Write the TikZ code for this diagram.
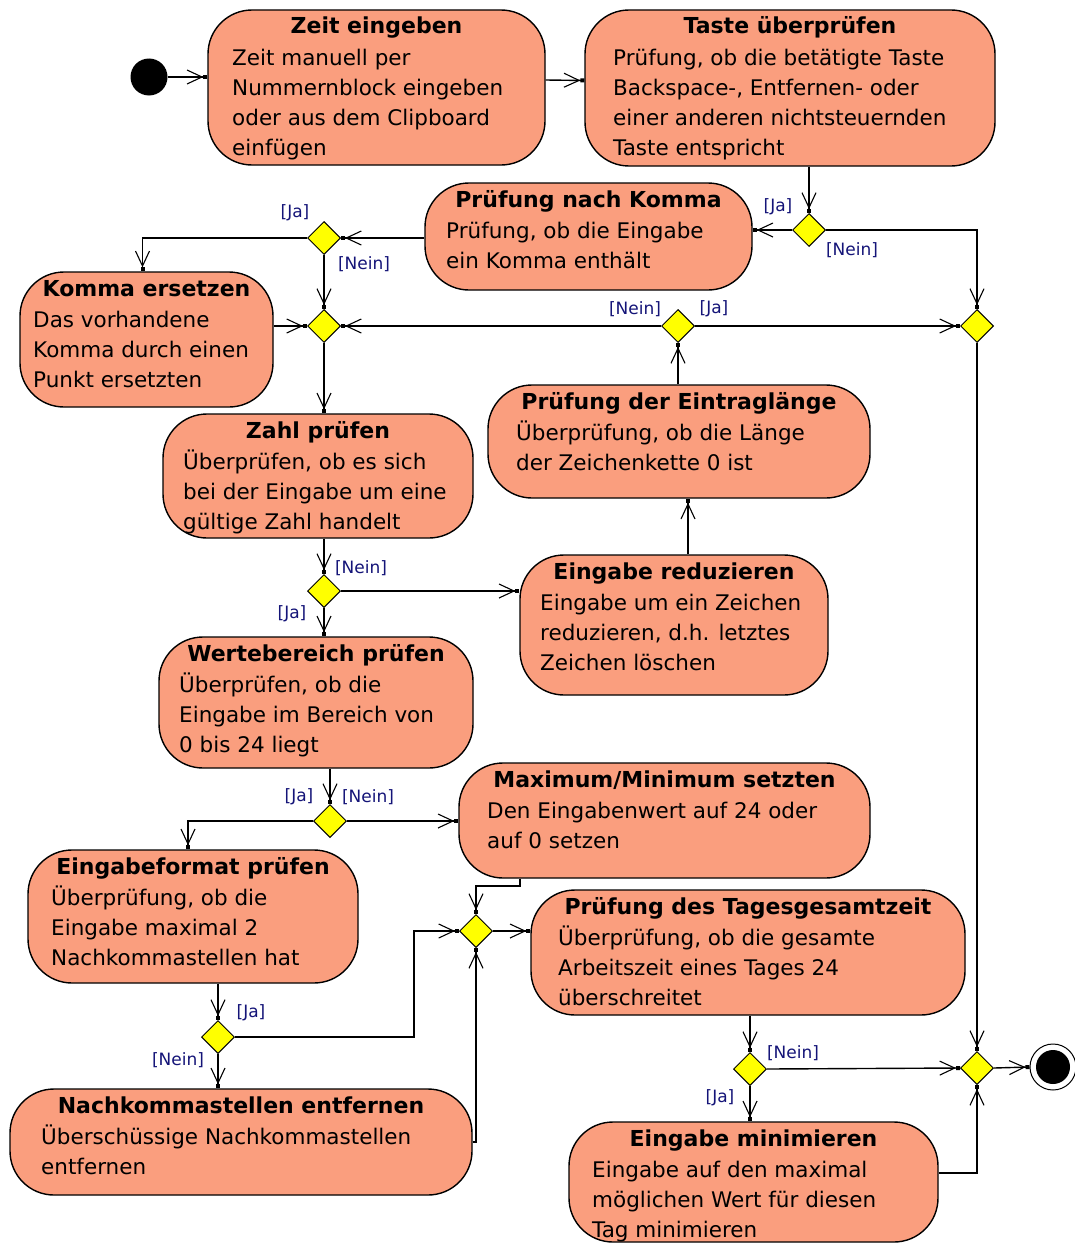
\documentclass[tikz,border=0pt]{standalone}
\usepackage{fontspec}
\setmainfont{DejaVu Sans}
\usetikzlibrary{arrows.meta,shapes.geometric,calc}

\definecolor{actfill}{RGB}{250,158,126}
\definecolor{guardblue}{RGB}{20,20,120}
\definecolor{forkyellow}{RGB}{255,255,0}

\tikzset{
  act/.style={draw=black, line width=1.4pt, fill=actfill, rounded corners=44pt, inner sep=0pt},
  acttitle/.style={font=\fontsize{22}{26}\selectfont\bfseries, anchor=base, inner sep=0pt},
  acttext/.style={font=\fontsize{21.5}{30}\selectfont, align=left, anchor=north west, inner sep=0pt},
  decision/.style={diamond, draw=black, line width=1pt, fill=forkyellow,
    minimum width=33pt, minimum height=33pt, inner sep=0pt},
  guard/.style={font=\fontsize{17}{20}\selectfont, text=guardblue, inner sep=0pt},
  flow/.style={line width=1.4pt,
    -{Straight Barb[length=15pt,width=14pt,line width=1.1pt] Square[length=4pt,width=4pt]}},
}

% activity box: name, left, top, right, bottom, text x, title, body
\newcommand\actbox[8]{%
  \node[act, minimum width={#4-#2}, minimum height={#5-#3}] (#1) at ({(#2+#4)/2},{(#3+#5)/2}) {};
  \node[acttitle] (#1-title) at ({(#2+#4)/2},#3+24) {#7};
  \node[acttext] (#1-body) at (#6,#3+34) {\rule{0pt}{21pt}#8};
}

\begin{document}
\begin{tikzpicture}[x=1pt,y=-1pt]
  \fill[white] (0,0) rectangle (1075,1247);
  \useasboundingbox (0,0) rectangle (1075,1247);

  % activities
  \actbox{zeit}{208}{10}{545}{165}{232}{Zeit eingeben}
    {Zeit manuell per\\Nummernblock eingeben\\oder aus dem Clipboard\\einfügen}
  \actbox{taste}{585}{10}{995}{166}{613}{Taste überprüfen}
    {Prüfung, ob die betätigte Taste\\Backspace-, Entfernen- oder\\einer anderen nichtsteuernden\\Taste entspricht}
  \actbox{kc}{425}{183}{752}{290}{446}{Prüfung nach Komma}
    {Prüfung, ob die Eingabe\\ein Komma enthält}
  \actbox{ke}{20}{272}{273}{407}{33}{Komma ersetzen}
    {Das vorhandene\\Komma durch einen\\Punkt ersetzten}
  \actbox{zahl}{163}{414}{473}{538}{183}{Zahl prüfen}
    {Überprüfen, ob es sich\\bei der Eingabe um eine\\gültige Zahl handelt}
  \actbox{eintr}{488}{385}{870}{498}{516}{Prüfung der Eintraglänge}
    {Überprüfung, ob die Länge\\der Zeichenkette 0 ist}
  \actbox{red}{520}{555}{828}{695}{540}{Eingabe reduzieren}
    {Eingabe um ein Zeichen\\reduzieren, d.h. letztes\\Zeichen löschen}
  \actbox{wert}{159}{637}{473}{768}{179}{Wertebereich prüfen}
    {Überprüfen, ob die\\Eingabe im Bereich von\\0 bis 24 liegt}
  \actbox{maxmin}{459}{763}{870}{878}{487}{Maximum/Minimum setzten}
    {Den Eingabenwert auf 24 oder\\auf 0 setzen}
  \actbox{eformat}{28}{850}{358}{983}{51}{Eingabeformat prüfen}
    {Überprüfung, ob die\\Eingabe maximal 2\\Nachkommastellen hat}
  \actbox{tages}{531}{890}{965}{1015}{558}{Prüfung des Tagesgesamtzeit}
    {Überprüfung, ob die gesamte\\Arbeitszeit eines Tages 24\\überschreitet}
  \actbox{nach}{10}{1089}{472}{1195}{41}{Nachkommastellen entfernen}
    {Überschüssige Nachkommastellen\\entfernen}
  \actbox{minim}{569}{1122}{938}{1242}{592}{Eingabe minimieren}
    {Eingabe auf den maximal\\möglichen Wert für diesen\\Tag minimieren}

  % initial and final states
  \node[circle, fill=black, minimum size=37pt, inner sep=0pt] (start) at (149,77) {};
  \node[circle, draw=black, line width=1pt, fill=white, minimum size=46pt, inner sep=0pt] (final) at (1053,1067) {};
  \node[circle, fill=black, minimum size=34pt, inner sep=0pt] (finaldot) at (final) {};

  % decisions and merges
  \node[decision] (dTaste) at (809,230) {};
  \node[decision] (dKomma) at (324,238) {};
  \node[decision] (mLeft) at (324,326) {};
  \node[decision] (dLen) at (678,326) {};
  \node[decision] (mRight) at (977,326) {};
  \node[decision] (dZahl) at (324,591) {};
  \node[decision] (dWert) at (330,821) {};
  \node[decision] (dFormat) at (218,1037) {};
  \node[decision] (mMid) at (476,931) {};
  \node[decision] (dTag) at (750,1069) {};
  \node[decision] (mEnd) at (977,1068) {};

  % bend points
  \coordinate (jogA) at (414,931);
  \coordinate (jogB) at (520,886);

  % control flow
  \draw[flow] (start.east) -- (start -| zeit.west);
  \draw[flow] ([yshift=7.5pt]zeit.east) -- ([yshift=7.5pt]taste.west);
  \draw[flow] (taste.south -| dTaste) -- (dTaste.north);
  \draw[flow] (dTaste.west) -- (dTaste.west -| kc.east);
  \draw[flow] (dTaste.east) -| (mRight.north);
  \draw[flow] (kc.west |- dKomma) -- (dKomma.east);
  \draw[flow] (dKomma.west) -| ([xshift=-4pt]ke.north);
  \draw[flow] (dKomma.south) -- (mLeft.north);
  \draw[flow] (ke.east |- mLeft) -- (mLeft.west);
  \draw[flow] (dLen.west) -- (mLeft.east);
  \draw[flow] (dLen.east) -- (mRight.west);
  \draw[flow] (mLeft.south) -- (mLeft |- zahl.north);
  \draw[flow] (zahl.south -| dZahl) -- (dZahl.north);
  \draw[flow] (dZahl.east) -- (dZahl -| red.west);
  \draw[flow] ([xshift=14pt]red.north) -- ([xshift=14pt]red.north |- eintr.south);
  \draw[flow] (dLen |- eintr.north) -- (dLen.south);
  \draw[flow] (dZahl.south) -- (dZahl |- wert.north);
  \draw[flow] (dWert |- wert.south) -- (dWert.north);
  \draw[flow] (dWert.east) -- (dWert -| maxmin.west);
  \draw[flow] (dWert.west) -| ([xshift=-5pt]eformat.north);
  \draw[flow] ([xshift=-144.5pt]maxmin.south) -- (jogB) -| (mMid.north);
  \draw[flow] (eformat.south -| dFormat) -- (dFormat.north);
  \draw[flow] (dFormat.east) -| (jogA) -- (mMid.west);
  \draw[flow] (dFormat.south) -- (dFormat |- nach.north);
  \draw[flow] (nach.east) -| (mMid.south);
  \draw[flow] (mMid.east) -- (mMid.east -| tages.west);
  \draw[flow] (dTag |- tages.south) -- (dTag.north);
  \draw[flow] (dTag.south) -- (dTag |- minim.north);
  \draw[flow] (dTag.east) -- (mEnd.west);
  \draw[flow] ([yshift=9pt]minim.east) -| (mEnd.south);
  \draw[flow] (mRight.south) -- (mEnd.north);
  \draw[flow] (mEnd.east) -- (final.west);

  % guards
  \node[guard] (gTasteJa) at (778,207) {[Ja]};
  \node[guard] (gTasteNein) at (852,250) {[Nein]};
  \node[guard] (gKommaJa) at (295,213) {[Ja]};
  \node[guard] (gKommaNein) at (364,264) {[Nein]};
  \node[guard] (gLenNein) at (635,309) {[Nein]};
  \node[guard] (gLenJa) at (714,309) {[Ja]};
  \node[guard] (gZahlNein) at (361,568) {[Nein]};
  \node[guard] (gZahlJa) at (292,614) {[Ja]};
  \node[guard] (gWertJa) at (299,797) {[Ja]};
  \node[guard] (gWertNein) at (368,797) {[Nein]};
  \node[guard] (gFormatJa) at (251,1013) {[Ja]};
  \node[guard] (gFormatNein) at (178,1060) {[Nein]};
  \node[guard] (gTagNein) at (793,1053) {[Nein]};
  \node[guard] (gTagJa) at (720,1098) {[Ja]};
\end{tikzpicture}
\end{document}
